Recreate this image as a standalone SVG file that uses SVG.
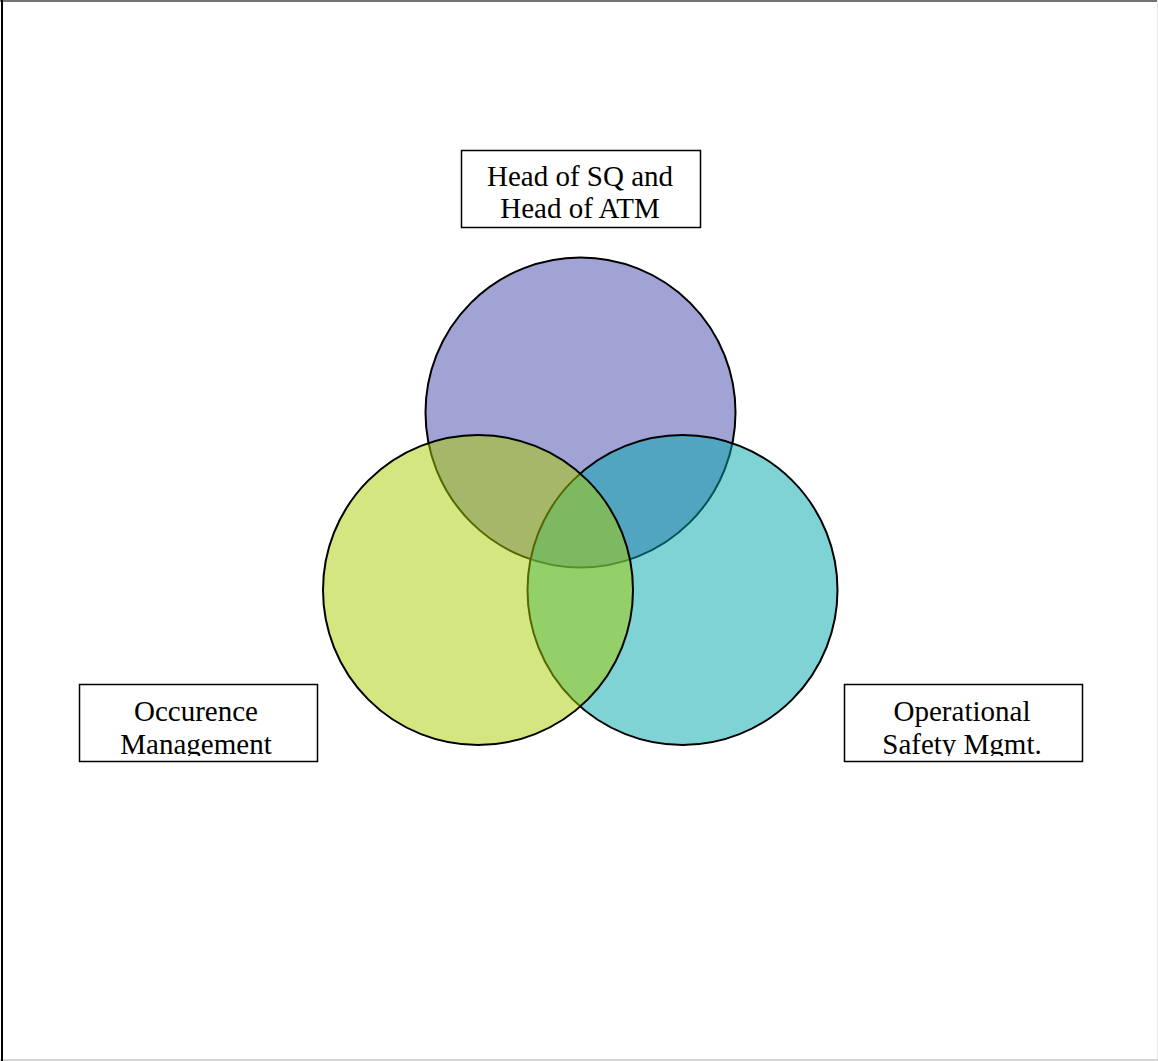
<svg xmlns="http://www.w3.org/2000/svg" width="1158" height="1061" viewBox="0 0 1158 1061">
  <style>
    .circ { stroke: #000; stroke-width: 2; }
    .box { fill: #fff; stroke: #000; stroke-width: 1.5; }
    .lbl { font-family: "Liberation Serif", "Times New Roman", serif; font-size: 29px; fill: #000; text-anchor: middle; }
  </style>
  <defs>
    <clipPath id="clipL"><rect x="80" y="685" width="237" height="71"/></clipPath>
    <clipPath id="clipR"><rect x="845" y="685" width="237" height="71"/></clipPath>
  </defs>
  <rect x="0" y="0" width="1158" height="1061" fill="#fff"/>
  <g id="frame">
    <line x1="0" y1="1" x2="1158" y2="1" stroke="#444" stroke-width="1.5"/>
    <line x1="1157.5" y1="0" x2="1157.5" y2="1061" stroke="#e6e6e6" stroke-width="1"/>
    <line x1="0" y1="1060" x2="1158" y2="1060" stroke="#c8c8c8" stroke-width="1.5"/>
    <line x1="2" y1="0" x2="2" y2="1061" stroke="#000" stroke-width="2"/>
  </g>
  <g id="circles">
    <circle id="c-top" class="circ" cx="580.5" cy="412.5" r="155" fill="#A2A3D5"/>
    <circle id="c-right" class="circ" cx="682.5" cy="590" r="155" fill="#00A7AB" fill-opacity="0.5"/>
    <circle id="c-left" class="circ" cx="478" cy="590" r="155" fill="#A7CD00" fill-opacity="0.5"/>
  </g>
  <g id="connectors"></g>
  <g id="node-top">
    <rect class="box" x="461.5" y="150.5" width="239" height="77"/>
    <text class="lbl" x="580" y="186">Head of SQ and</text>
    <text class="lbl" x="580" y="218">Head of ATM</text>
  </g>
  <g id="node-left">
    <rect class="box" x="79.5" y="684.5" width="238" height="77"/>
    <g clip-path="url(#clipL)">
      <text class="lbl" x="196" y="721">Occurence</text>
      <text class="lbl" x="196" y="754">Management</text>
    </g>
  </g>
  <g id="node-right">
    <rect class="box" x="844.5" y="684.5" width="238" height="77"/>
    <g clip-path="url(#clipR)">
      <text class="lbl" x="962" y="721">Operational</text>
      <text class="lbl" x="962" y="754">Safety Mgmt.</text>
    </g>
  </g>
</svg>
